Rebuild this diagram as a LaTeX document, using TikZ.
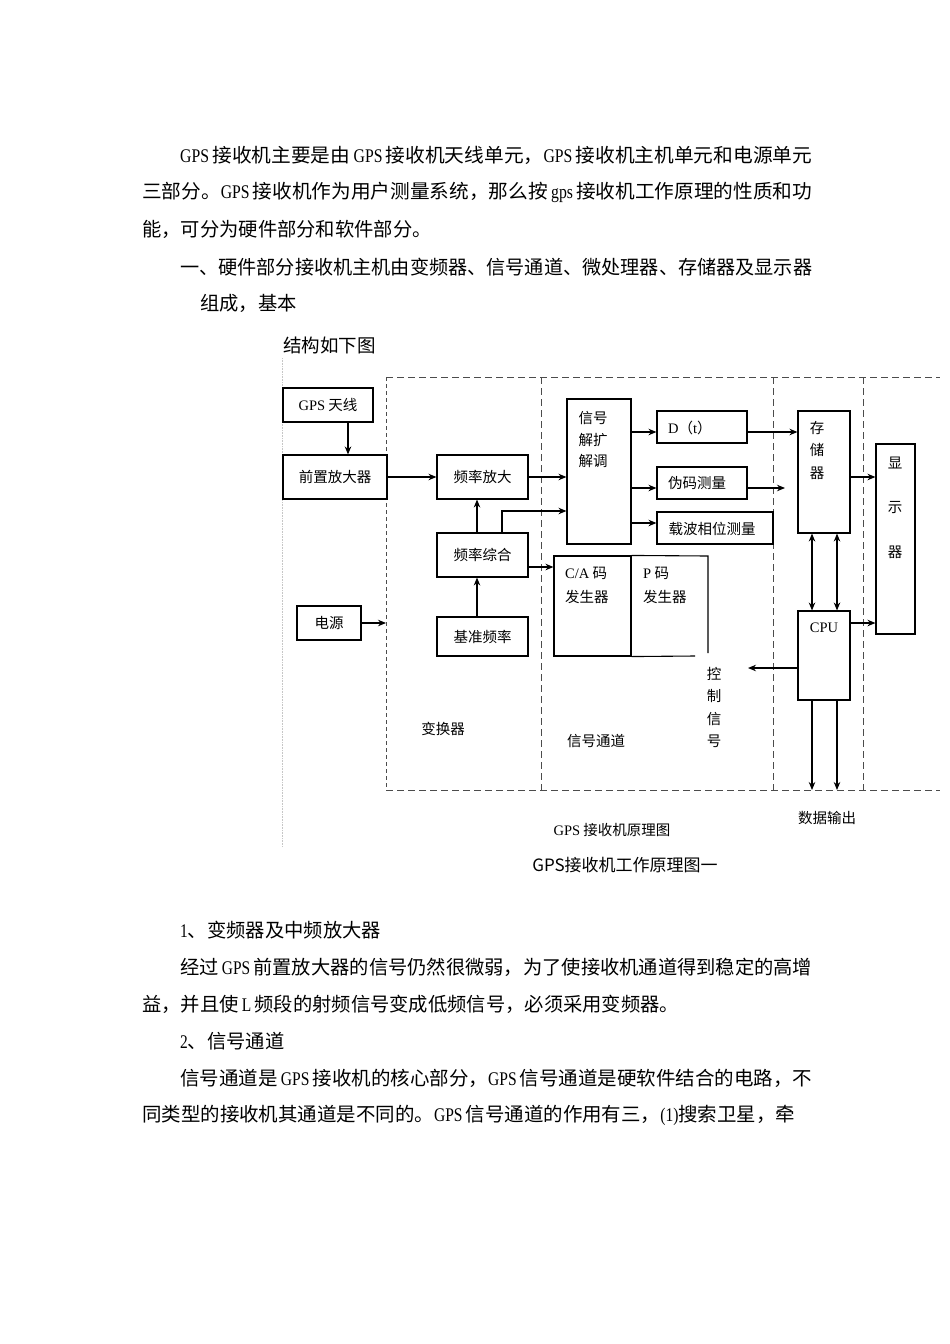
\documentclass[tikz,border=0pt]{standalone}
\usepackage{graphicx}
\usepackage{fontspec}
\setmainfont{Noto Sans CJK SC}
\newfontfamily\tnr{Liberation Serif}
\newfontfamily\bl[FakeStretch=0.8]{Liberation Serif}
\usetikzlibrary{arrows.meta,calc}
\newcommand\dgmfont{\fontsize{14.5}{17}\selectfont}
\newcommand\bodyfont{\fontsize{19.3}{22}\selectfont}
\newcommand\G{{\bl GPS}}
\newcommand\fitline[2]{\resizebox{#1}{\height}{#2}}
\begin{document}
\begin{tikzpicture}[x=1pt,y=-1pt,
  bx/.style={draw, line width=1.1pt, inner sep=0pt, font=\dgmfont},
  lab/.style={inner sep=0pt, font=\dgmfont},
  arr/.style={line width=1.1pt, -{Stealth[length=8pt,width=6.5pt]}},
  darr/.style={line width=1.1pt, {Stealth[length=8pt,width=6.5pt]}-{Stealth[length=8pt,width=6.5pt]}},
  frame/.style={line width=1pt, gray!60!black, dash pattern=on 7pt off 4pt},
  body/.style={anchor=west, inner sep=0pt, font=\bodyfont}]
\fill[white] (0,0) rectangle (950,1344);
\useasboundingbox (0,0) rectangle (950,1344);

% ---------- body text above ----------
\node[body] (l1) at (180,155) {\fitline{632pt}{\G\,接收机主要是由\,\G\,接收机天线单元，\G\,接收机主机单元和电源单元}};
\node[body] (l2) at (142,192) {\fitline{670pt}{三部分。\G\,接收机作为用户测量系统，那么按\,{\bl gps}\,接收机工作原理的性质和功}};
\node[body] (l3) at (142,229) {能，可分为硬件部分和软件部分。};
\node[body] (l4) at (180,267) {\fitline{632pt}{一、硬件部分接收机主机由变频器、信号通道、微处理器、存储器及显示器}};
\node[body] (l5) at (200,303) {组成，基本};
\node[body, font=\fontsize{18.5}{20}\selectfont] (l6) at (283,345) {结构如下图};

% ---------- frame ----------
\draw[gray!45, line width=0.6pt, densely dotted] (282,358) -- (282,847);
\draw[frame] (386,377) -- (940,377);
\draw[frame] (386,790) -- (940,790);
\draw[frame, dash pattern=on 4pt off 3pt] (386,377) -- (386,790);
\draw[frame] (541,377) -- (541,790);
\draw[frame] (773,377) -- (773,790);
\draw[frame] (863,377) -- (863,790);

% ---------- boxes ----------
\node[bx, minimum width=90, minimum height=34] (ant) at (328,405) {{\tnr GPS} 天线};
\node[bx, minimum width=104, minimum height=44] (pre) at (335,477) {前置放大器};
\node[bx, minimum width=91, minimum height=44] (fa) at (482.5,477) {频率放大};
\node[bx, minimum width=91, minimum height=44] (fz) at (482.5,555) {频率综合};
\node[bx, minimum width=91, minimum height=39] (jz) at (482.5,636.5) {基准频率};
\node[bx, minimum width=64, minimum height=34] (dy) at (329,623) {电源};
\node[bx, minimum width=64, minimum height=145] (xh) at (599,471.5) {};
\node[lab] (xh1) at (593,418) {信号};
\node[lab] (xh2) at (593,440) {解扩};
\node[lab] (xh3) at (593,461) {解调};
\node[bx, minimum width=90, minimum height=32] (dt) at (702,427) {};
\node[lab, anchor=west] (dtl) at (668,428) {{\tnr D}（{\tnr t}）};
\node[bx, minimum width=90, minimum height=32] (wm) at (702,483) {};
\node[lab] (wml) at (697,483) {伪码测量};
\node[bx, minimum width=116, minimum height=32] (zb) at (715,528) {};
\node[lab] (zbl) at (712,529) {载波相位测量};
\node[bx, minimum width=77, minimum height=100] (ca) at (592.5,606) {};
\node[lab, anchor=west] (ca1) at (565,573) {{\tnr C/A} 码};
\node[lab, anchor=west] (ca2) at (565,597) {发生器};
\draw[line width=1.1pt] (ca.north east) -- (708,556) -- (708,653);
\draw[line width=1.1pt] (ca.south east) -- (695,656);
\node[lab, anchor=west] (p1) at (643,573) {{\tnr P} 码};
\node[lab, anchor=west] (p2) at (643,597) {发生器};
\node[bx, minimum width=52, minimum height=122] (cc) at (824,472) {};
\node[lab] (cc1) at (817,428) {存};
\node[lab] (cc2) at (817,450) {储};
\node[lab] (cc3) at (817,473) {器};
\node[bx, minimum width=39, minimum height=190] (xs) at (895.5,539) {};
\node[lab] (xs1) at (895,463) {显};
\node[lab] (xs2) at (895,508) {示};
\node[lab] (xs3) at (895,552) {器};
\node[bx, minimum width=52, minimum height=89] (cpu) at (824,655.5) {};
\node[lab, font=\dgmfont\tnr] (cpul) at (824,628) {CPU};
\node[lab] (k1) at (714,674) {控};
\node[lab] (k2) at (714,696) {制};
\node[lab] (k3) at (714,719) {信};
\node[lab] (k4) at (714,741) {号};
\node[lab] (bh) at (443,729) {变换器};
\node[lab] (xd) at (596,741) {信号通道};
\node[lab] (sj) at (827,818) {数据输出};
\node[lab] (yt) at (612,830) {{\tnr GPS} 接收机原理图};
\node[inner sep=0pt, font=\fontsize{17}{19}\selectfont] (cap) at (625,865) {GPS接收机工作原理图一};

% ---------- connectors ----------
\draw[arr] ([xshift=20pt]ant.south) -- ([xshift=20pt]ant.south |- pre.north);
\draw[arr] (pre.east) -- (fa.west);
\draw[arr] (fa.east) -- (fa.east -| xh.west);
\draw[arr] (fz.north -| 477,0) -- (fa.south -| 477,0);
\draw[arr] (fz.north -| 502,0) |- (xh.west |- 0,511);
\draw[arr] (fz.east |- 0,567) -- (ca.west |- 0,567);
\draw[arr] (jz.north -| 477,0) -- (fz.south -| 477,0);
\coordinate (pw) at (386,623);
\draw[arr] (dy.east) -- (pw);
\draw[arr] (xh.east |- 0,432) -- (dt.west |- 0,432);
\draw[arr] (xh.east |- 0,488) -- (wm.west |- 0,488);
\draw[arr] (xh.east |- 0,523) -- (zb.west |- 0,523);
\draw[arr] (dt.east |- 0,432) -- (cc.west |- 0,432);
\coordinate (wmend) at (785,488);
\draw[arr] (wm.east |- 0,488) -- (wmend);
\draw[arr] (cc.east |- 0,477) -- (xs.west |- 0,477);
\draw[arr] (cpu.east |- 0,623) -- (xs.west |- 0,623);
\draw[darr] (cc.south -| 812,0) -- (cpu.north -| 812,0);
\draw[darr] (cc.south -| 837,0) -- (cpu.north -| 837,0);
\coordinate (ctl) at (748,668);
\draw[arr] (cpu.west |- 0,668) -- (ctl);
\coordinate (o1) at (812,790);
\coordinate (o2) at (837,790);
\draw[arr] (cpu.south -| 812,0) -- (o1);
\draw[arr] (cpu.south -| 837,0) -- (o2);

% ---------- body text below ----------
\node[body] (b1) at (180,930) {{\bl 1}、变频器及中频放大器};
\node[body] (b2) at (180,967) {\fitline{632pt}{经过\,\G\,前置放大器的信号仍然很微弱，为了使接收机通道得到稳定的高增}};
\node[body] (b3) at (142,1004) {益，并且使\,{\bl L}\,频段的射频信号变成低频信号，必须采用变频器。};
\node[body] (b4) at (180,1041) {{\bl 2}、信号通道};
\node[body] (b5) at (180,1078) {\fitline{632pt}{信号通道是\,\G\,接收机的核心部分，\G\,信号通道是硬软件结合的电路，不}};
\node[body] (b6) at (142,1115) {\fitline{653pt}{同类型的接收机其通道是不同的。\G\,信号通道的作用有三，{\bl (1)}搜索卫星，牵}};
\end{tikzpicture}
\end{document}
